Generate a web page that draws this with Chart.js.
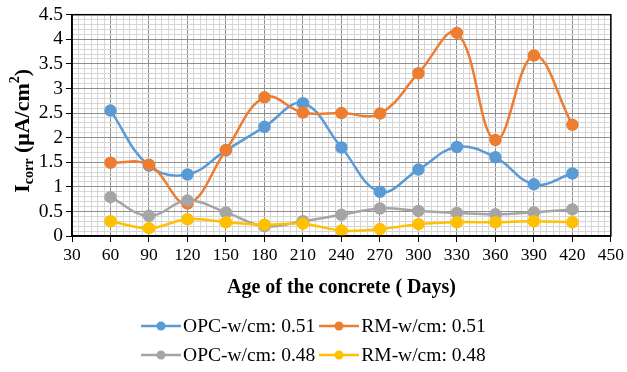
<!DOCTYPE html>
<html>
<head>
<meta charset="utf-8">
<script src="https://cdn.jsdelivr.net/npm/chart.js@4/dist/chart.umd.min.js"></script>
<style>
  html, body { margin: 0; padding: 0; background: #fff; }
  #wrap { position: relative; width: 627px; height: 372px; }
  canvas { position: absolute; left: 0; top: 0; }
  #legend {
    position: absolute; left: 0; width: 627px; top: 315px;
    display: grid; grid-template-columns: auto auto; justify-content: center;
    column-gap: 4px; row-gap: 7px;
    font-family: "Liberation Serif", "Times New Roman", serif; font-size: 19.5px; color: #000;
  }
  .item { display: flex; align-items: center; height: 22px; white-space: nowrap; }
  .item svg { margin-right: 2px; }
</style>
</head>
<body>
<div id="wrap">
  <canvas id="c" width="627" height="372"></canvas>
  <div id="legend"></div>
</div>
<script>
// ---- data ----
const days = [60, 90, 120, 150, 180, 210, 240, 270, 300, 330, 360, 390, 420];
const opc051 = [2.55, 1.43, 1.25, 1.74, 2.22, 2.70, 1.80, 0.90, 1.35, 1.81, 1.60, 1.05, 1.27];
const rm051  = [1.49, 1.45, 0.66, 1.75, 2.82, 2.51, 2.50, 2.49, 3.31, 4.13, 1.95, 3.67, 2.26];
const opc048 = [0.79, 0.41, 0.72, 0.48, 0.20, 0.30, 0.43, 0.56, 0.51, 0.47, 0.44, 0.48, 0.54];
const rm048  = [0.30, 0.16, 0.34, 0.28, 0.23, 0.25, 0.11, 0.14, 0.24, 0.28, 0.28, 0.30, 0.28];
const seriesNames = ['OPC-w/cm: 0.51', 'RM-w/cm: 0.51', 'OPC-w/cm: 0.48', 'RM-w/cm: 0.48'];
const seriesColors = ['#5B9BD5', '#ED7D31', '#A5A5A5', '#FFC000'];
const xTitle = 'Age of the concrete ( Days)';
const xMin = 30, xMax = 450, xMajor = 30, xMinor = 5;
const yMin = 0, yMax = 4.5, yMajor = 0.5, yMinor = 0.1;

const FONT = '"Liberation Serif", "Times New Roman", serif';
const allSeries = [opc051, rm051, opc048, rm048];

function isMajor(v, step) {
  const r = v / step;
  return Math.abs(r - Math.round(r)) < 1e-6;
}

const datasets = allSeries.map((vals, i) => ({
  label: seriesNames[i],
  data: days.map((d, j) => ({ x: d, y: vals[j] })),
  borderColor: seriesColors[i],
  backgroundColor: seriesColors[i],
  pointBackgroundColor: seriesColors[i],
  pointBorderColor: seriesColors[i],
  borderWidth: 2.5,
  pointRadius: 5,
  tension: 0.4,
  order: allSeries.length - i
}));

const frame = {
  id: 'frame',
  afterDatasetsDraw(chart) {
    const { ctx, chartArea: a } = chart;
    ctx.save();
    ctx.strokeStyle = '#000';
    ctx.lineWidth = 1.5;
    ctx.strokeRect(a.left, a.top, a.right - a.left, a.bottom - a.top);
    ctx.restore();
  }
};

const yTitle = {
  id: 'yTitle',
  afterDraw(chart) {
    const { ctx, chartArea: a } = chart;
    const parts = [
      { t: 'I', size: 22, dy: 0 },
      { t: 'corr', size: 14, dy: 6 },
      { t: ' (\u03BCA/cm', size: 22, dy: 0 },
      { t: '2', size: 14, dy: -8 },
      { t: ')', size: 22, dy: 0 }
    ];
    ctx.save();
    let total = 0;
    parts.forEach(p => { ctx.font = 'bold ' + p.size + 'px ' + FONT; p.w = ctx.measureText(p.t).width; total += p.w; });
    const cy = (a.top + a.bottom) / 2 + 5.5;
    ctx.translate(23, cy);
    ctx.rotate(-Math.PI / 2);
    ctx.fillStyle = '#000';
    ctx.textBaseline = 'middle';
    let x = -total / 2;
    parts.forEach(p => {
      ctx.font = 'bold ' + p.size + 'px ' + FONT;
      ctx.fillText(p.t, x, p.dy);
      x += p.w;
    });
    ctx.restore();
  }
};

new Chart(document.getElementById('c'), {
  type: 'line',
  data: { datasets },
  plugins: [frame, yTitle],
  options: {
    responsive: false,
    animation: false,
    layout: { padding: { top: 14, right: 15, left: 0, bottom: 0 } },
    plugins: { legend: { display: false }, tooltip: { enabled: false } },
    scales: {
      x: {
        type: 'linear',
        min: xMin, max: xMax,
        afterFit(s) { s.height = 136; },
        ticks: {
          stepSize: xMinor, autoSkip: false, maxRotation: 0, padding: 3,
          color: '#000', font: { family: FONT, size: 17.5 },
          callback: v => isMajor(v, xMajor) ? String(Math.round(v)) : ''
        },
        grid: {
          color: c => isMajor(c.tick.value, xMajor) ? '#8f8f8f' : '#d6d6d6',
          lineWidth: 1,
          tickLength: 6,
          tickColor: c => isMajor(c.tick.value, xMajor) ? '#000' : 'rgba(0,0,0,0)'
        },
        border: { color: '#000', width: 1.5 },
        title: {
          display: true, text: xTitle, color: '#000',
          font: { family: FONT, size: 20, weight: 'bold' },
          padding: { top: 0, bottom: 72 }
        }
      },
      y: {
        type: 'linear',
        min: yMin, max: yMax,
        afterFit(s) { s.width = 72; },
        ticks: {
          stepSize: yMinor, autoSkip: false, padding: 3,
          color: '#000', font: { family: FONT, size: 19.5 },
          callback: v => isMajor(v, yMajor) ? String(Math.round(v * 10) / 10) : ''
        },
        grid: {
          color: c => isMajor(c.tick.value, yMajor) ? '#8f8f8f' : '#d6d6d6',
          lineWidth: 1,
          tickLength: 6,
          tickColor: c => isMajor(c.tick.value, yMajor) ? '#000' : 'rgba(0,0,0,0)'
        },
        border: { color: '#000', width: 1.5 }
      }
    }
  }
});

// HTML legend
const legend = document.getElementById('legend');
seriesNames.forEach((name, i) => {
  const d = document.createElement('div');
  d.className = 'item';
  d.innerHTML = '<svg width="40" height="12"><line x1="0" y1="6" x2="40" y2="6" stroke="' + seriesColors[i] +
    '" stroke-width="2.5"/><circle cx="20" cy="6" r="4.5" fill="' + seriesColors[i] + '"/></svg><span></span>';
  d.querySelector('span').textContent = name;
  legend.appendChild(d);
});
</script>
</body>
</html>
